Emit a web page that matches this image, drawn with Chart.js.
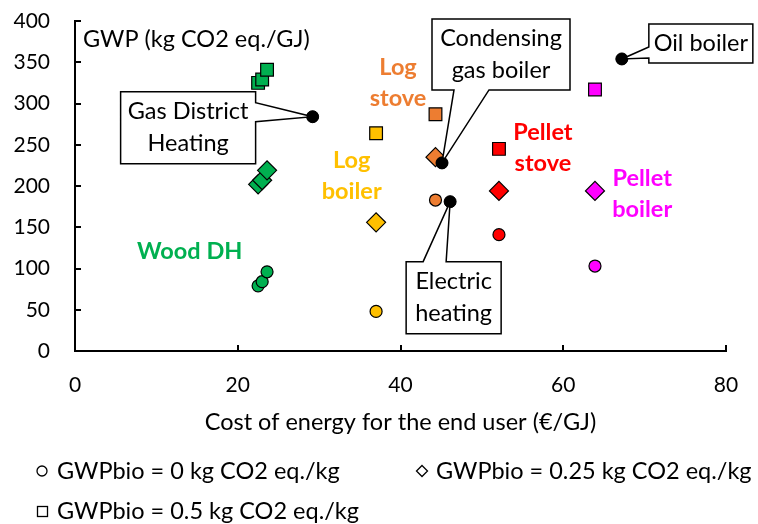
<!DOCTYPE html>
<html>
<head>
<meta charset="utf-8">
<script src="https://cdn.jsdelivr.net/npm/chart.js@4.4.0/dist/chart.umd.min.js"></script>
<style>
  html, body { margin: 0; padding: 0; background: #fff; }
  #wrap { width: 758px; height: 524px; }
</style>
</head>
<body>
<div id="wrap"><canvas id="myChart"></canvas></div>
<script>
// bioenergy systems: Wood DH (x3), Log boiler, Log stove, Pellet stove, Pellet boiler
const bioCost = [22.5, 23.0, 23.6, 37.0, 44.3, 52.1, 63.9];
const gwpBio0 = [79, 84, 96, 48, 183, 141, 103];
const gwpBio025 = [202, 207, 219, 156, 235, 194, 194];
const gwpBio05 = [325, 329, 341, 264, 287, 245, 317];
const bioColors = ['#00B050', '#00B050', '#00B050', '#FFC000', '#ED7D31', '#FF0000', '#FF00FF'];

// fossil / electric references
const fossilNames = [['Gas District', 'Heating'], ['Condensing', 'gas boiler'], ['Electric', 'heating'], ['Oil boiler']];
const fossilCost = [29.2, 45.1, 46.1, 67.2];
const fossilGwp = [284, 228, 181, 354];

// coloured group labels
const groupNames = [['Wood DH'], ['Log', 'boiler'], ['Log', 'stove'], ['Pellet', 'stove'], ['Pellet', 'boiler']];
const groupColors = ['#00B050', '#FFC000', '#ED7D31', '#FF0000', '#FF00FF'];
const groupX = [14.1, 34.0, 39.7, 57.5, 69.7];
const groupY = [121, 212, 325, 246, 191];

const legendNames = ['GWPbio = 0 kg CO2 eq./kg', 'GWPbio = 0.25 kg CO2 eq./kg', 'GWPbio = 0.5 kg CO2 eq./kg'];

const FONT = 'Lato';
const TXT = 23.5;

function pts(xs, ys) {
  return xs.map((x, i) => ({ x: x, y: ys[i] }));
}

// callout boxes, offset from the point they point at (px)
const callouts = [
  { dx: -192, dy: -25, w: 135, h: 72, side: 'right', a: 11, b: 30 },
  { dx: -10, dy: -144, w: 138, h: 71, side: 'bottom', a: 22, b: 57 },
  { dx: -44, dy: 60, w: 95, h: 72, side: 'top', a: 17, b: 40 },
  { dx: 27, dy: -35, w: 104, h: 39, side: 'left', a: 23, b: 34 }
];

function drawCallout(ctx, px, py, c) {
  const x = px + c.dx, y = py + c.dy, w = c.w, h = c.h;
  ctx.beginPath();
  ctx.moveTo(x, y);
  if (c.side === 'top') { ctx.lineTo(x + c.a, y); ctx.lineTo(px, py); ctx.lineTo(x + c.b, y); }
  ctx.lineTo(x + w, y);
  if (c.side === 'right') { ctx.lineTo(x + w, y + c.a); ctx.lineTo(px, py); ctx.lineTo(x + w, y + c.b); }
  ctx.lineTo(x + w, y + h);
  if (c.side === 'bottom') { ctx.lineTo(x + c.b, y + h); ctx.lineTo(px, py); ctx.lineTo(x + c.a, y + h); }
  ctx.lineTo(x, y + h);
  if (c.side === 'left') { ctx.lineTo(x, y + c.b); ctx.lineTo(px, py); ctx.lineTo(x, y + c.a); }
  ctx.closePath();
  ctx.fillStyle = '#fff';
  ctx.fill();
  ctx.lineWidth = 1.5;
  ctx.strokeStyle = '#000';
  ctx.stroke();
  return { cx: x + w / 2, cy: y + h / 2 };
}

function drawLines(ctx, lines, cx, cy, lh) {
  const top = cy - (lines.length - 1) * lh / 2;
  lines.forEach((t, i) => ctx.fillText(t, cx, top + i * lh));
}

const extras = {
  id: 'extras',
  afterDatasetsDraw(chart) {
    const ctx = chart.ctx;
    const xs = chart.scales.x, ys = chart.scales.y;
    ctx.save();

    // inward tick marks
    ctx.strokeStyle = '#000';
    ctx.lineWidth = 2;
    ys.ticks.forEach(t => {
      if (t.value === 0) return;
      const py = Math.round(ys.getPixelForValue(t.value));
      ctx.beginPath(); ctx.moveTo(xs.left, py); ctx.lineTo(xs.left + 6, py); ctx.stroke();
    });
    xs.ticks.forEach(t => {
      if (t.value === 0) return;
      const px = Math.round(xs.getPixelForValue(t.value));
      ctx.beginPath(); ctx.moveTo(px, ys.bottom); ctx.lineTo(px, ys.bottom - 6); ctx.stroke();
    });

    // y-axis title inside the plot
    ctx.fillStyle = '#000';
    ctx.font = TXT + 'px ' + FONT;
    ctx.textAlign = 'left';
    ctx.textBaseline = 'middle';
    ctx.fillText('GWP (kg CO2 eq./GJ)', xs.left + 8, ys.getPixelForValue(400) + 18);

    // coloured group labels
    ctx.font = 'bold ' + TXT + 'px ' + FONT;
    ctx.textAlign = 'center';
    groupNames.forEach((lines, i) => {
      ctx.fillStyle = groupColors[i];
      drawLines(ctx, lines, xs.getPixelForValue(groupX[i]), ys.getPixelForValue(groupY[i]), 31);
    });

    // callouts for the reference systems
    ctx.font = TXT + 'px ' + FONT;
    fossilNames.forEach((lines, i) => {
      const px = xs.getPixelForValue(fossilCost[i]);
      const py = ys.getPixelForValue(fossilGwp[i]);
      const c = drawCallout(ctx, px, py, callouts[i]);
      ctx.fillStyle = '#000';
      drawLines(ctx, lines, c.cx, c.cy, 32);
    });
    // redraw the dots over the callout pointers
    fossilCost.forEach((x, i) => {
      ctx.beginPath();
      ctx.arc(xs.getPixelForValue(x), ys.getPixelForValue(fossilGwp[i]), 6, 0, Math.PI * 2);
      ctx.fillStyle = '#000';
      ctx.fill();
    });
    ctx.restore();
  },
  afterDraw(chart) {
    // legend with hollow marker symbols
    const ctx = chart.ctx;
    ctx.save();
    ctx.strokeStyle = '#000';
    ctx.lineWidth = 1.3;
    ctx.fillStyle = '#000';
    ctx.font = TXT + 'px ' + FONT;
    ctx.textAlign = 'left';
    ctx.textBaseline = 'middle';

    ctx.beginPath(); ctx.arc(42, 471, 5, 0, Math.PI * 2); ctx.stroke();
    ctx.fillText(legendNames[0], 57, 471);

    ctx.beginPath();
    ctx.moveTo(422, 465.5); ctx.lineTo(427.5, 471); ctx.lineTo(422, 476.5); ctx.lineTo(416.5, 471);
    ctx.closePath(); ctx.stroke();
    ctx.fillText(legendNames[1], 436, 471);

    ctx.strokeRect(37.5, 506.5, 10, 10);
    ctx.fillText(legendNames[2], 57, 511);
    ctx.restore();
  }
};

// hidden tick marks give the label gap without adding to the scale padding
const hiddenGrid = (len) => ({
  display: true,
  drawOnChartArea: false,
  drawTicks: true,
  tickLength: len,
  tickColor: 'rgba(0,0,0,0)',
  color: 'rgba(0,0,0,0)'
});

const ctx = document.getElementById('myChart').getContext('2d');
const myChart = new Chart(ctx, {
  type: 'scatter',
  data: {
    datasets: [
      {
        label: 'Reference systems',
        data: pts(fossilCost, fossilGwp),
        pointStyle: 'circle',
        pointRadius: 6,
        backgroundColor: '#000',
        borderColor: '#000',
        borderWidth: 1,
        order: 0
      },
      {
        label: legendNames[2],
        data: pts(bioCost, gwpBio05),
        pointStyle: 'rect',
        pointRadius: 9,
        backgroundColor: bioColors,
        borderColor: '#000',
        borderWidth: 1.2,
        order: 1
      },
      {
        label: legendNames[1],
        data: pts(bioCost, gwpBio025),
        pointStyle: 'rectRot',
        pointRadius: 9.5,
        backgroundColor: bioColors,
        borderColor: '#000',
        borderWidth: 1.2,
        order: 2
      },
      {
        label: legendNames[0],
        data: pts(bioCost, gwpBio0),
        pointStyle: 'circle',
        pointRadius: 6,
        backgroundColor: bioColors,
        borderColor: '#000',
        borderWidth: 1.2,
        order: 3
      }
    ]
  },
  options: {
    responsive: true,
    maintainAspectRatio: false,
    animation: false,
    layout: { padding: { left: 0, right: 32, top: 21, bottom: 87 } },
    plugins: {
      legend: { display: false },
      tooltip: { enabled: false }
    },
    scales: {
      x: {
        type: 'linear',
        min: 0,
        max: 80,
        ticks: { stepSize: 20, padding: 0, color: '#000', font: { family: FONT, size: 21 } },
        grid: hiddenGrid(22),
        border: { color: '#000', width: 2 },
        title: {
          display: true,
          text: 'Cost of energy for the end user (€/GJ)',
          color: '#000',
          font: { family: FONT, size: TXT },
          padding: { top: 0, bottom: 0 }
        },
        afterFit(s) { s.height = 86; }
      },
      y: {
        type: 'linear',
        min: 0,
        max: 400,
        ticks: { stepSize: 50, padding: 0, color: '#000', font: { family: FONT, size: 21 } },
        grid: hiddenGrid(25),
        border: { color: '#000', width: 2 },
        afterFit(s) { s.width = 75; }
      }
    }
  },
  plugins: [extras]
});
</script>
</body>
</html>
